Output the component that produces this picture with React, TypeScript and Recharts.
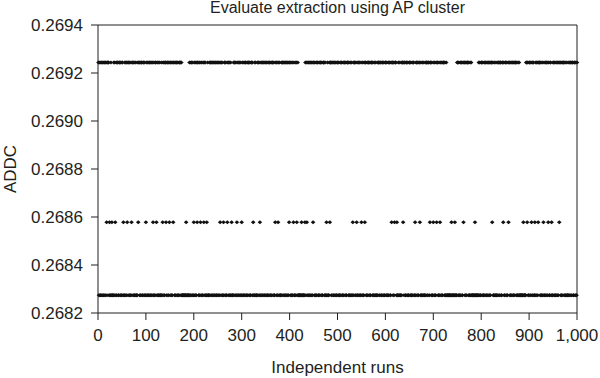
import React from "react";
import {
  ScatterChart,
  Scatter,
  XAxis,
  YAxis,
  ReferenceLine,
  Label,
} from "recharts";

// ADDC values of the three levels the runs settle on
const TOP_ADDC = 0.269244;
const MIDDLE_ADDC = 0.268578;
const BOTTOM_ADDC = 0.268274;

// level hit by each run, 1..1000, in groups of 10 (t = top, m = middle, b = bottom)
const runLevelRows = [
  "tbtbbtbttb btbttbtmbt ttbmbbtbmb bbtbtmbtbt tbbttbtbbt tbmbbtbttb mtbttbtbbm ttbtbbtbtb bbtmttbtbt tbbttbtbbm",
  "tbtbbtbttb btbtmbtbbt tmbtbbtbtb bbtbmtbtbt tmbttbtbmt tbtbbtmttb btbttbtbbt ttbtbbbbbb bbbmbbbbbb tbbttbtbbm",
  "tbtbbtmttb btbmtbtbbt mtbtbbmbtb bbtbttbtbt tbbttbtbbt tbtbmtbttb bmbttbtbbm ttbtbbtbmb bbtbttbtbm tbbttbtbbm",
  "tbtbbtbttb btbttbtbbt ttbmbbtbtb bbtbttbmbt tbbttbtbbt tbtbbtbttb btbttbtbbm ttbtbmtbtb bbtbttbtbt tbbttbtbmt",
  "tbtbbtbmtb btbtmbtbbb bbbbmbbbbb bmtbtmbtbt tbbttbtbmt tbtbbtbttb btbttbtbbt ttbtbbmbtb bbtmttbtbt tbbttbtbbt",
  "tbtbbtbttb btbttbtbbt ttbtbbtbtb bmtbttbtbm tbbttbtbbm tbtbbtmttb btbttbtbbt ttbtbbtbtb bbtbttbtbt tbbttbtbbt",
  "tbtbbtbttb btmttbtbmt ttbmbbtbtb bbtbttmtbt tbbttbtbbt tbtbbtbttb bmbttbtbbt tmbtbbtbtb bbtbttbtbt tbmttbtbbm",
  "tbtbbtmttb btbmtbtbbt ttbtbbtbbb bbbbbbbmbb bbbbmbbbbt tbtbbtbttb btmttbtbbt ttbtbbtbtb bbbbbbmbbb bbbbtbtbbt",
  "tbtbbtbttb btbttbtbbt ttmtbbtbtb bbtbttbtbt tbbttmtbbt tbtbbtmttb btbttbtbbt ttbtbbtbtb bbbbbbbmbb bbbttmtbbt",
  "tbtbmtbttb bmbttbtbmt ttbtbbtbtm bbtbttbtbm tbbttbmbbt tbtbbtbttb btmttbtbbt ttbtbbtbtb bbtbttbtbt tbbttbtbbt",
];

const yTicks = [0.2682, 0.2684, 0.2686, 0.2688, 0.269, 0.2692, 0.2694];
const xTicks = [0, 100, 200, 300, 400, 500, 600, 700, 800, 900, 1000];

const FONT = '"Liberation Sans", Arial, Helvetica, sans-serif';
const INK = "#231f20";

const runLevels = runLevelRows.join("").replace(/\s/g, "").split("");

function pointsFor(code: string, addc: number) {
  const pts: { run: number; addc: number }[] = [];
  runLevels.forEach((c, i) => {
    if (c === code) pts.push({ run: i + 1, addc });
  });
  return pts;
}

const topPoints = pointsFor("t", TOP_ADDC);
const middlePoints = pointsFor("m", MIDDLE_ADDC);
const bottomPoints = pointsFor("b", BOTTOM_ADDC);

const Dot = (props: any) => {
  const { cx, cy } = props;
  if (cx == null || cy == null) return null;
  return (
    <path
      d={`M${cx - 2.3},${cy}L${cx},${cy - 2}L${cx + 2.3},${cy}L${cx},${cy + 2}Z`}
      fill="#111"
    />
  );
};

const tickStyle = { fill: INK, fontSize: 17, fontFamily: FONT };

export default function App() {
  return (
    <div
      style={{
        position: "absolute",
        left: 0,
        top: 0,
        width: 600,
        height: 378,
        background: "#fff",
        overflow: "hidden",
        fontFamily: FONT,
      }}
    >
      <div
        style={{
          position: "absolute",
          left: 98,
          width: 479,
          top: 0,
          textAlign: "center",
          fontSize: 16,
          lineHeight: "16px",
          color: INK,
          whiteSpace: "nowrap",
        }}
      >
        Evaluate extraction using AP cluster
      </div>
      <ScatterChart
        width={600}
        height={378}
        margin={{ top: 25, right: 23, bottom: 0, left: 0 }}
      >
        <XAxis
          type="number"
          dataKey="run"
          domain={[0, 1000]}
          ticks={xTicks}
          interval={0}
          tickFormatter={(v: number) => v.toLocaleString("en-US")}
          tick={tickStyle}
          tickSize={7}
          tickMargin={9}
          height={65}
          axisLine={{ stroke: INK }}
          tickLine={{ stroke: INK }}
        >
          <Label
            value="Independent runs"
            position="insideBottom"
            offset={5}
            style={{ fill: INK, fontSize: 17, fontFamily: FONT }}
          />
        </XAxis>
        <YAxis
          type="number"
          dataKey="addc"
          domain={[0.2682, 0.2694]}
          ticks={yTicks}
          interval={0}
          tickFormatter={(v: number) => v.toFixed(4)}
          tick={tickStyle}
          tickSize={7}
          tickMargin={8}
          width={98}
          axisLine={{ stroke: INK }}
          tickLine={{ stroke: INK }}
        >
          <Label
            content={() => (
              <text
                x={16}
                y={169}
                transform="rotate(-90 16 169)"
                textAnchor="middle"
                fill={INK}
                fontSize={17}
                fontFamily={FONT}
              >
                ADDC
              </text>
            )}
          />
        </YAxis>
        <ReferenceLine y={0.2694} stroke={INK} />
        <ReferenceLine x={1000} stroke={INK} />
        <Scatter data={topPoints} shape={Dot} isAnimationActive={false} />
        <Scatter data={middlePoints} shape={Dot} isAnimationActive={false} />
        <Scatter data={bottomPoints} shape={Dot} isAnimationActive={false} />
      </ScatterChart>
    </div>
  );
}
